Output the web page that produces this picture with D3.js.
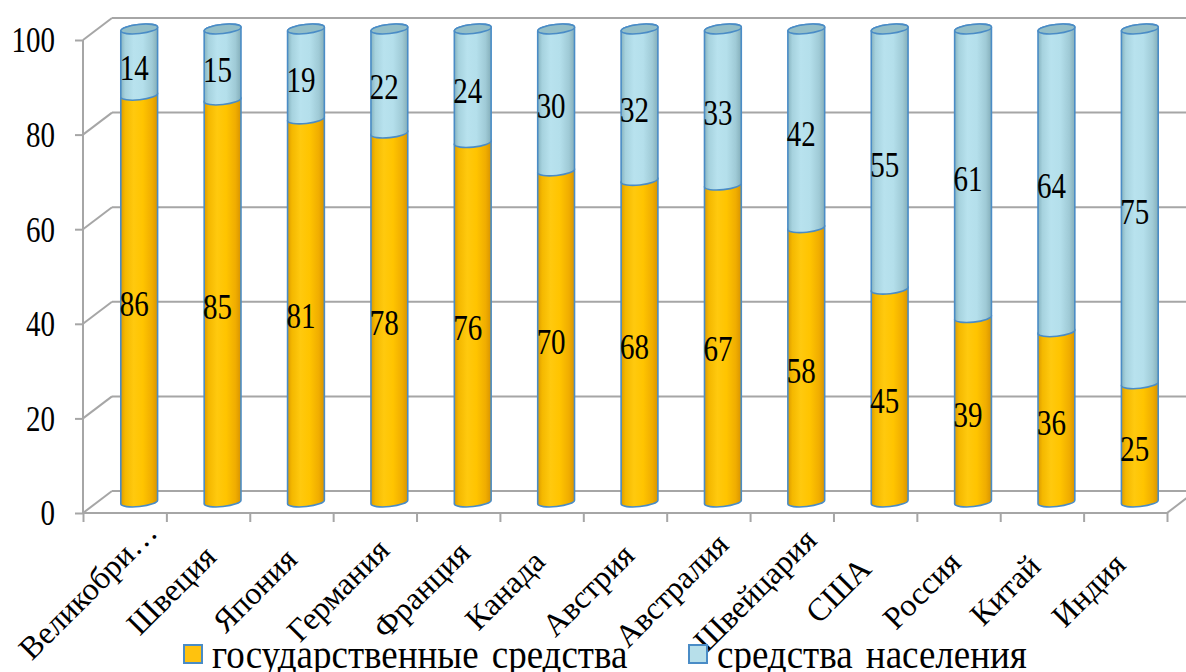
<!DOCTYPE html>
<html>
<head>
<meta charset="utf-8">
<script src="https://cdn.jsdelivr.net/npm/d3@7/dist/d3.min.js"></script>
<style>
  html, body { margin: 0; padding: 0; background: #fff; }
  svg { display: block; }
</style>
</head>
<body>
<svg id="chart" width="1186" height="672"></svg>
<script>
// Financing structure by country, percent
const categories = ["Великобри…", "Швеция", "Япония", "Германия", "Франция", "Канада", "Австрия",
                    "Австралия", "Швейцария", "США", "Россия", "Китай", "Индия"];
const stateFunds = [86, 85, 81, 78, 76, 70, 68, 67, 58, 45, 39, 36, 25];
const populationFunds = [14, 15, 19, 22, 24, 30, 32, 33, 42, 55, 61, 64, 75];
const seriesNames = ["государственные средства", "средства населения"];
const yTicks = [0, 20, 40, 60, 80, 100];

const FONT = "'Liberation Serif', 'Times New Roman', serif";
const svg = d3.select("#chart").attr("font-family", FONT);

// front plane of the 3D box
const x = d3.scaleBand().domain(categories).range([83, 1167]).padding(0);
const y = d3.scaleLinear().domain([0, 100]).range([513, 40]);
// depth offset of the back wall
const depth = { dx: 29, dy: -22 };
// glyphs are drawn slightly tall
const stretch = 1.2;

const gridColor = "#a6a6a6";

// ---- gradients for cylinders
const defs = svg.append("defs");
function cylGradient(id, stops) {
  const g = defs.append("linearGradient").attr("id", id)
    .attr("x1", "0%").attr("x2", "100%").attr("y1", "0%").attr("y2", "0%");
  stops.forEach(([o, c]) => g.append("stop").attr("offset", o).attr("stop-color", c));
}
cylGradient("gOrange", [["0%", "#dc9a00"], ["12%", "#f4b800"], ["35%", "#ffc90e"], ["60%", "#ffc400"], ["85%", "#f0ad00"], ["100%", "#d89400"]]);
cylGradient("gBlue", [["0%", "#86b3bf"], ["12%", "#a6d2de"], ["35%", "#b8e2ee"], ["60%", "#b4dfeb"], ["85%", "#9fcad6"], ["100%", "#84aeb9"]]);

// ---- walls & gridlines
const grid = svg.append("g");
yTicks.forEach(v => {
  const yf = y(v), yb = y(v) + depth.dy;
  grid.append("line").attr("x1", x.range()[0]).attr("y1", yf)
    .attr("x2", x.range()[0] + depth.dx).attr("y2", yb);
  grid.append("line").attr("x1", x.range()[0] + depth.dx).attr("y1", yb)
    .attr("x2", x.range()[1] + depth.dx).attr("y2", yb);
});
grid.append("line").attr("x1", x.range()[1]).attr("y1", y(0))
  .attr("x2", x.range()[1] + depth.dx).attr("y2", y(0) + depth.dy);
grid.selectAll("line").attr("stroke", gridColor).attr("stroke-width", 2);

// ---- y axis
const yAxis = svg.append("g").attr("transform", `translate(${x.range()[0]},0)`)
  .call(d3.axisLeft(y).tickValues(yTicks).tickSize(8).tickPadding(20).tickFormat(d3.format("d")));
yAxis.attr("font-family", null).attr("font-size", null);
yAxis.select(".domain").attr("stroke", gridColor).attr("stroke-width", 2).attr("d", `M0,${y(0)}V${y(100)}`);
yAxis.selectAll(".tick line").attr("stroke", gridColor).attr("stroke-width", 2);
yAxis.selectAll(".tick text").attr("font-size", 29).attr("fill", "#000")
  .attr("dy", "0.34em").attr("transform", `scale(1,${stretch})`);

// ---- x axis (ticks on category boundaries)
const xEdge = d3.scaleLinear().domain([0, categories.length]).range(x.range());
const xAxis = svg.append("g").attr("transform", `translate(0,${y(0)})`)
  .call(d3.axisBottom(xEdge).tickValues(d3.range(categories.length + 1)).tickSize(9).tickFormat(""));
xAxis.select(".domain").attr("stroke", gridColor).attr("stroke-width", 2).attr("d", `M${x.range()[0]},0H${x.range()[1]}`);
xAxis.selectAll(".tick line").attr("stroke", gridColor).attr("stroke-width", 2);

// rotated category names, centred below and left of each slot
svg.append("g").selectAll("text").data(categories).join("text")
  .attr("transform", d => `translate(${x(d) + x.bandwidth() / 2 - 36},${y(0) + 78}) rotate(-45)`)
  .attr("text-anchor", "middle")
  .attr("dy", "0.3em")
  .attr("font-size", 32)
  .text(d => d);

// ---- cylinders
const rx = 18.5, ry = 4.6, tilt = -6;
const t = tilt * Math.PI / 180;
const ex = rx * Math.cos(t), ey = rx * Math.sin(t);
const midY = v => y(v) + depth.dy / 2;
const cxOf = d => x(d) + x.bandwidth() / 2 + depth.dx / 2;

function bodyPath(cx, v0, v1) {
  const yb = midY(v0), yt = midY(v1);
  return `M${cx - ex},${yt - ey} L${cx - ex},${yb - ey}` +
    ` A${rx},${ry} ${tilt} 0 0 ${cx + ex},${yb + ey}` +
    ` L${cx + ex},${yt + ey}` +
    ` A${rx},${ry} ${tilt} 0 0 ${cx - ex},${yt - ey} Z`;
}

const rows = categories.map((c, i) => ({ c, s: stateFunds[i], p: populationFunds[i] }));
const outline = "#4a8cc6";
const bars = svg.append("g").selectAll("g").data(rows).join("g");

bars.append("path").attr("d", d => bodyPath(cxOf(d.c), 0, d.s))
  .attr("fill", "url(#gOrange)").attr("stroke", outline).attr("stroke-width", 1.6);
bars.append("path").attr("d", d => bodyPath(cxOf(d.c), d.s, d.s + d.p))
  .attr("fill", "url(#gBlue)").attr("stroke", outline).attr("stroke-width", 1.6);
bars.append("ellipse")
  .attr("transform", d => `translate(${cxOf(d.c)},${midY(d.s + d.p)}) rotate(${tilt})`)
  .attr("rx", rx).attr("ry", ry)
  .attr("fill", "#92bec8").attr("stroke", outline).attr("stroke-width", 1.6);

// ---- value labels (on the front face of each segment)
const labelY = v => y(v) + depth.dy / 4;
function valueLabel(sel, value, centre) {
  sel.append("text")
    .attr("transform", d => `translate(${cxOf(d.c) - 5},${labelY(centre(d))}) scale(1,${stretch})`)
    .attr("dy", "0.35em").attr("text-anchor", "middle").attr("font-size", 29)
    .text(value);
}
valueLabel(bars, d => d.s, d => d.s / 2);
valueLabel(bars, d => d.p, d => d.s + d.p / 2);

// ---- legend
const legend = svg.append("g");
const legendItems = [
  { name: seriesNames[0], fill: "#ffc20e", x: 184 },
  { name: seriesNames[1], fill: "#b7dfea", x: 689 }
];
const li = legend.selectAll("g").data(legendItems).join("g")
  .attr("transform", d => `translate(${d.x},645)`);
li.append("rect").attr("width", 18).attr("height", 18)
  .attr("fill", d => d.fill).attr("stroke", outline).attr("stroke-width", 2);
li.append("text").attr("transform", `translate(28,23) scale(1,1.1)`).attr("font-size", 37)
  .attr("word-spacing", 4)
  .text(d => d.name);
</script>
</body>
</html>
